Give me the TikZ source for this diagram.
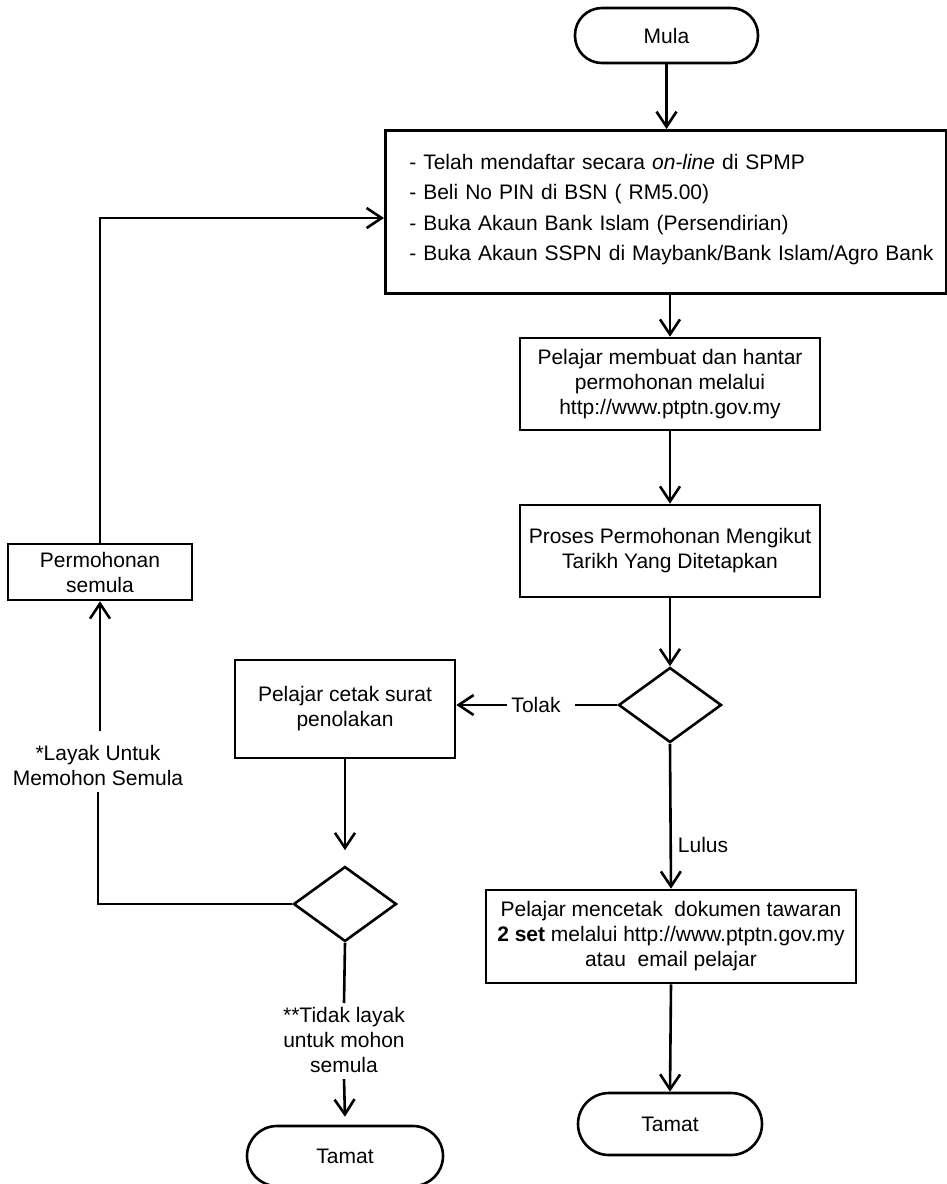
\documentclass[tikz,border=0pt]{standalone}
\usepackage{fontspec}
\setmainfont{Liberation Sans}
\usetikzlibrary{arrows.meta,shapes.geometric}
\begin{document}
\begin{tikzpicture}[x=1pt,y=-1pt,line width=2.6pt,
  every node/.style={font=\fontsize{21}{25}\selectfont},
  term/.style={draw,rectangle,rounded corners=29pt,minimum width=184pt,minimum height=58pt,inner sep=0pt},
  box/.style={draw,rectangle,align=center,inner sep=0pt},
  dia/.style={draw,diamond,minimum width=103pt,minimum height=75pt,inner sep=0pt},
  arr/.style={-{Straight Barb[length=15pt,width=20pt]}},
  lbl/.style={align=center,inner sep=0pt}]
\useasboundingbox (0,0) rectangle (947,1184);

\node[term,minimum width=183pt,minimum height=55pt,rounded corners=27pt] (mula) at (666.5,35.5) {Mula};
\node[box,anchor=north west,minimum width=561pt,minimum height=163pt,text width=513pt,inner xsep=24pt,align=left,font=\fontsize{21}{30.5}\selectfont] (big) at (384,129)
 {\mbox{- Telah mendaftar secara \textit{on-line} di SPMP}\\
  \mbox{- Beli No PIN di BSN ( RM5.00)}\\
  \mbox{- Buka Akaun Bank Islam (Persendirian)}\\
  \mbox{- Buka Akaun SSPN di Maybank/Bank Islam/Agro Bank}\\[-21.5pt]\mbox{}};
\node[box,minimum width=300pt,minimum height=92pt] (b2) at (670,384)
 {Pelajar membuat dan hantar\\ permohonan melalui\\ http://www.ptptn.gov.my};
\node[box,minimum width=300pt,minimum height=92pt] (b3) at (670,551)
 {Proses Permohonan Mengikut\\ Tarikh Yang Ditetapkan};
\node[dia] (d1) at (670,705) {};
\node[box,minimum width=220pt,minimum height=98pt] (pc) at (345,709)
 {Pelajar cetak surat\\ penolakan};
\node[lbl] (tolak) at (536,705) {Tolak};
\node[dia] (d2) at (345,904) {};
\node[box,minimum width=184pt,minimum height=56pt] (ps) at (100,572)
 {Permohonan\\ semula};
\node[lbl] (layak) at (98,765) {*Layak Untuk\\ Memohon Semula};
\node[lbl] (tidak) at (344,1040) {**Tidak layak\\ untuk mohon\\ semula};
\node[term,minimum width=196pt,minimum height=60pt,rounded corners=30pt] (t2) at (345,1156) {Tamat};
\node[lbl] (lulus) at (703,845) {Lulus};
\node[box,minimum width=370pt,minimum height=93pt] (b5) at (671,936.5)
 {Pelajar mencetak~ dokumen tawaran\\ \textbf{2 set} melalui http://www.ptptn.gov.my\\ atau~ email pelajar};
\node[term,minimum width=184pt,minimum height=62pt,rounded corners=31pt] (t1) at (670,1124) {Tamat};
\coordinate (fb) at (384,218);

\draw[arr] (mula.south) -- (mula.south |- big.north);
\draw[arr] (big.south -| b2.north) -- (b2.north);
\draw[arr] (b2.south) -- (b3.north);
\draw[arr] (b3.south) -- (d1.north);
\draw (d1.west) -- ([xshift=13pt]tolak.east);
\draw[arr] ([xshift=-3pt]tolak.west) -- (pc.east |- tolak.west);
\draw[arr] (d1.south) -- (b5.north);
\draw[arr] (b5.south) -- (t1.north);
\draw[arr] (pc.south) -- ([yshift=15pt]d2.north);
\draw (d2.west) -| ([yshift=-5pt]layak.south);
\draw[arr] ([yshift=12pt]layak.north -| ps.south) -- (ps.south);
\draw[arr] (ps.north) |- (fb);
\draw (d2.south) -- ([yshift=3pt]tidak.north);
\draw[arr] ([yshift=-5pt]tidak.south) -- ([yshift=8pt]t2.north);
\end{tikzpicture}
\end{document}
